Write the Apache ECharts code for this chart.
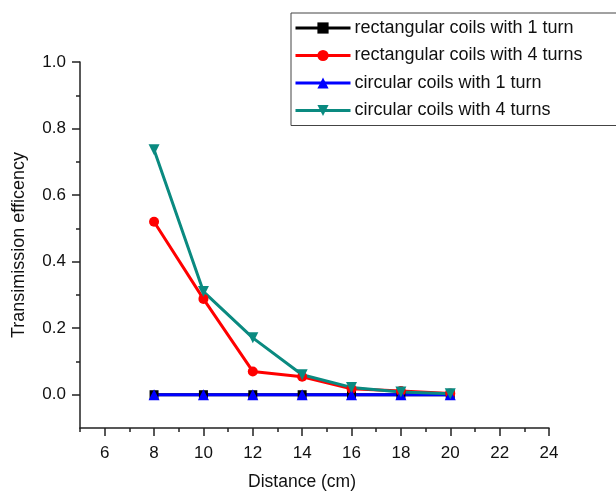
<!DOCTYPE html>
<html>
<head>
<meta charset="utf-8">
<script src="https://cdn.jsdelivr.net/npm/echarts@6/dist/echarts.min.js"></script>
<style>html,body{margin:0;padding:0;background:#fff;}#c{width:616px;height:492px;}</style>
</head>
<body>
<div id="c"></div>
<script>
const distances = [8, 10, 12, 14, 16, 18, 20];
const rectOneTurn = [0, 0, 0, 0, 0, 0, 0];
const rectFourTurns = [0.52, 0.288, 0.07, 0.054, 0.018, 0.011, 0.004];
const circOneTurn = [0, 0, 0, 0, 0, 0, 0];
const circFourTurns = [0.736, 0.31, 0.171, 0.06, 0.022, 0.008, 0.003];
const seriesNames = ['rectangular coils with 1 turn', 'rectangular coils with 4 turns', 'circular coils with 1 turn', 'circular coils with 4 turns'];
const xMajorTicks = [6, 8, 10, 12, 14, 16, 18, 20, 22, 24];
const xMinorTicks = [5, 7, 9, 11, 13, 15, 17, 19, 21, 23];
const yMajorTicks = [0, 0.2, 0.4, 0.6, 0.8, 1.0];
const yMinorTicks = [0.1, 0.3, 0.5, 0.7, 0.9];

const FONT = '"Liberation Sans", Arial, sans-serif';
const pair = (ys) => distances.map((x, i) => [x, ys[i]]);
const chart = echarts.init(document.getElementById('c'), null, {renderer: 'canvas'});
const lineAxis = {show: true, onZero: false, lineStyle: {color: '#222', width: 1.5}};
chart.setOption({
  animation: false,
  backgroundColor: '#fff',
  grid: {left: 80, right: 67, top: 62, bottom: 64, containLabel: false, outerBoundsMode: 'none'},
  legend: {
    left: 291, top: 13, orient: 'vertical',
    itemWidth: 55, itemHeight: 14, itemGap: 9.5,
    padding: [6, 60, 6, 3],
    borderColor: '#444', borderWidth: 1,
    lineStyle: {width: 3},
    textStyle: {fontFamily: FONT, fontSize: 18, color: '#111', padding: [0, 0, 0, -1]},
    data: seriesNames
  },
  xAxis: [{
    type: 'value', min: 5, max: 24,
    name: 'Distance (cm)', nameLocation: 'middle', nameGap: 45,
    nameTextStyle: {fontFamily: FONT, fontSize: 17.5, color: '#111', padding: [0, 25, 0, 0]},
    axisLine: lineAxis,
    axisTick: {show: true, length: 8, lineStyle: {color: '#222', width: 1.5}, customValues: xMajorTicks},
    axisLabel: {fontFamily: FONT, fontSize: 17, color: '#111', margin: 17, customValues: xMajorTicks},
    splitLine: {show: false}
  }, {
    type: 'value', min: 5, max: 24, position: 'bottom',
    axisLine: {show: false, onZero: false},
    axisTick: {show: true, length: 4, lineStyle: {color: '#222', width: 1.5}, customValues: xMinorTicks},
    axisLabel: {show: false},
    splitLine: {show: false}
  }],
  yAxis: [{
    type: 'value', min: -0.1, max: 1.0,
    name: 'Transimission efficency', nameLocation: 'middle', nameGap: 52,
    nameTextStyle: {fontFamily: FONT, fontSize: 18, color: '#111'},
    axisLine: lineAxis,
    axisTick: {show: true, length: 8, lineStyle: {color: '#222', width: 1.5}, customValues: yMajorTicks},
    axisLabel: {fontFamily: FONT, fontSize: 17, color: '#111', margin: 14, customValues: yMajorTicks,
      formatter: (v) => v.toFixed(1)},
    splitLine: {show: false}
  }, {
    type: 'value', min: -0.1, max: 1.0, position: 'left',
    axisLine: {show: false, onZero: false},
    axisTick: {show: true, length: 4, lineStyle: {color: '#222', width: 1.5}, customValues: yMinorTicks},
    axisLabel: {show: false},
    splitLine: {show: false}
  }],
  series: [
    {name: seriesNames[0], type: 'line', data: pair(rectOneTurn), symbol: 'rect', symbolSize: 9,
      lineStyle: {color: '#000', width: 3}, itemStyle: {color: '#000'}},
    {name: seriesNames[1], type: 'line', data: pair(rectFourTurns), symbol: 'circle', symbolSize: 10,
      lineStyle: {color: '#ff0000', width: 3}, itemStyle: {color: '#ff0000'}},
    {name: seriesNames[2], type: 'line', data: pair(circOneTurn), symbol: 'triangle', symbolSize: 11,
      lineStyle: {color: '#0000ff', width: 3}, itemStyle: {color: '#0000ff'}},
    {name: seriesNames[3], type: 'line', data: pair(circFourTurns), symbol: 'triangle', symbolRotate: 180, symbolSize: 11,
      lineStyle: {color: '#0a8a80', width: 3}, itemStyle: {color: '#0a8a80'}}
  ]
});
</script>
</body>
</html>
